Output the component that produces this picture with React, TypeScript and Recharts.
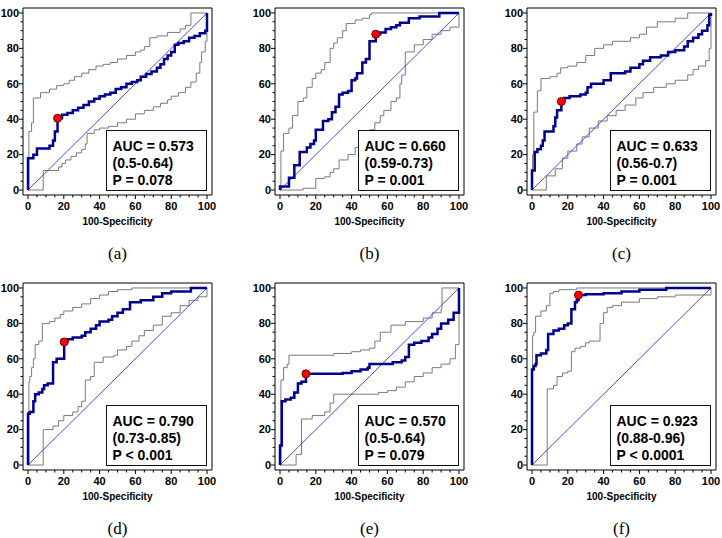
import React from 'react';
import { LineChart, Line, XAxis, YAxis, ReferenceDot } from 'recharts';

// ROC curves (stepAfter: each point = x where the curve jumps to y)
const rocA = [[0,0],[0,18],[3,20],[5,23.5],[12,25],[14,28],[15,33],[16.5,40.5],[19,42.5],[22,43.5],[25,45],[28,46.5],[31,48],[34,50],[37,51.5],[40,53],[43,54],[46,55],[49,57],[52,58],[55,60],[58,61],[61,62],[63,64],[66,65.5],[69,67],[72,69],[74,71],[76,74],[78,76],[80,78],[82,82],[84,83],[87,84],[90,86],[93,87],[96,88.5],[99,90],[100,91],[100,100]];
const upA = [[0,0],[0.5,33],[2,38],[3,52],[7,55],[12,57],[16,59],[20,60],[23,62],[26,64],[30,66],[34,68],[38,70],[42,71],[46,72],[50,74],[55,76],[60,78],[63,79],[65,81],[68,86],[72,87],[78,89],[85,91],[88,93],[91,100],[100,100]];
const loA = [[0,0],[8.5,11],[17,13],[19,15],[21,17],[24,19],[27,21],[30,23],[32,26],[33,32],[37,34],[40,35],[45,36],[50,38],[55,40],[60,43],[65,45],[70,47],[74,49],[78,51],[80,53],[84,55],[88,58],[91,61],[94,66],[96,72],[97,78],[99,84],[100,88],[100,100]];

const rocB = [[0,0],[0,2],[5,7],[8,14],[11,21.5],[15,24],[17,26],[19,28],[20,34],[24,39],[27,40],[29,44],[31,47],[33,54],[35,55],[38,56],[40,62],[42,63],[43,66],[46,72],[48,74],[50,84],[53.5,88],[56,89],[59,91],[62,92],[65,93],[67,94.5],[72,97],[78,98],[89,100],[100,100]];
const upB = [[0,0],[0.5,22],[2,32],[5,35],[7,42],[10,50],[13,52],[15,58],[18,63],[20,66],[23,68],[25,72],[28,80],[30,83],[32,86],[35,90],[37,94],[42,96],[46,97],[50,99],[51,100],[100,100]];
const loB = [[0,0],[13,1],[20,6.5],[25,7.5],[28,10],[30,12],[33,17],[38,20],[42,24],[45,30],[50,34],[53,38],[56,42],[58,45],[62,50],[65,52],[67,60],[68,65],[70,78],[75,82],[80,85],[85,88],[90,90],[95,92],[100,96],[100,100]];

const rocC = [[0,0],[0,11],[1.5,21.5],[3,23],[5,25],[6,28],[7,33],[12,36],[13,41],[14,45],[16.4,50],[18,52],[21,53],[27,54],[30,55],[31,58],[33,60],[40,62],[44,66],[52,67],[55,69],[60,71],[62,73],[66,75],[72,76],[76,78],[80,79],[85,81],[87,84],[90,86],[93,88],[95,90],[98,93],[99,99],[100,100]];
const upC = [[0,0],[0.3,20],[1,44],[3,56],[5,63],[10,64],[14,66],[16,69],[20,70],[25,72],[30,76],[35,80],[40,82],[45,84],[55,86],[60,88],[64,92],[70,95],[80,97],[87,100],[100,100]];
const loC = [[0,0],[8,8],[13,12],[17,18],[20,22],[25,26],[28,30],[32,35],[37,39],[42,42],[47,45],[52,48],[58,52],[62,55],[68,58],[75,60],[80,62],[87,65],[90,68],[93,70],[97,73],[99,80],[100,85],[100,100]];

const rocD = [[0,0],[0,29],[1,30],[3,36],[4,40],[6,41],[8,43],[9,45],[11,46],[14,58],[16,60],[20.2,69.5],[22,71],[25,72],[30,73],[32,75],[35,77],[38,79],[40,81],[45,82],[47,84],[50,86],[53,88],[57,92],[63,93],[70,95],[75,97],[80,98],[91,100],[100,100]];
const upD = [[0,0],[0.5,47],[1,50],[2,55],[3,60],[4,68],[6,70],[8,80],[12,81],[15,83],[18,85],[20,87],[25,89],[30,91],[35,94],[40,96],[45,98],[50,99],[58,100],[100,100]];
const loD = [[0,0],[8.5,20],[14,22],[17,25],[20,28],[25,30],[28,33],[30,36],[32,48],[35,50],[37,58],[42,61],[48,62],[50,65],[55,67],[58,70],[62,73],[65,76],[70,79],[75,84],[80,86],[85,90],[90,93],[95,95],[100,98],[100,100]];

const rocE = [[0,0],[0,11],[1,36],[3,37],[6,38],[8,41],[10,46],[12,47],[14.5,51.5],[35,52],[40,53],[45,54],[49,55],[50,57],[58,57],[63,58],[68,59],[70,61],[72,68],[75,69],[79,70],[83,72],[85,74],[88,77],[90,80],[94,82],[97,86],[100,87],[100,100]];
const upE = [[0,0],[0.5,48],[2,55],[4,57],[5,62],[30,63],[40,64],[45,65],[50,66],[53,70],[56,75],[62,79],[70,81],[80,83],[85,86],[90,88],[90.5,100],[100,100]];
const loE = [[0,0],[9,6],[12,26],[18,28],[25,30],[28,35],[30,40],[55,41],[60,42],[65,44],[70,47],[75,50],[80,52],[85,55],[90,57],[95,60],[98,68],[100,70],[100,100]];

const rocF = [[0,0],[0,54],[1,56],[2,57],[2.5,62],[5,63],[8,65],[9,74],[12,76],[15,77],[18,79],[20,80],[22,88],[24,92],[25,93],[26,96],[30,96.5],[40,97],[50,98],[60,99],[75,100],[100,100]];
const upF = [[0,0],[0.3,73],[1,75],[2,84],[5,87],[8,90],[10,97],[12,98],[15,99],[25,100],[100,100]];
const loF = [[0,0],[8.5,43],[12,45],[14,50],[17,52],[20,53],[22,64],[24,66],[27,67],[30,69],[32,70],[36,70],[38,80],[40,86],[42,89],[45,90],[50,92],[60,94],[70,95],[80,96],[100,97],[100,100]];

const chance = [[0,0],[100,100]];
const cutoffs = [[16.5,40.5],[53.5,88],[16.4,50],[20.2,69.5],[14.5,51.5],[26,96]];
const aucLabels = ['AUC = 0.573','AUC = 0.660','AUC = 0.633','AUC = 0.790','AUC = 0.570','AUC = 0.923'];
const ciLabels = ['(0.5-0.64)','(0.59-0.73)','(0.56-0.7)','(0.73-0.85)','(0.5-0.64)','(0.88-0.96)'];
const pLabels = ['P = 0.078','P = 0.001','P = 0.001','P < 0.001','P = 0.079','P < 0.0001'];
const letters = ['(a)','(b)','(c)','(d)','(e)','(f)'];
const ticks = [0,5,10,15,20,25,30,35,40,45,50,55,60,65,70,75,80,85,90,95,100];

const rocs = [rocA, rocB, rocC, rocD, rocE, rocF];
const uppers = [upA, upB, upC, upD, upE, upF];
const lowers = [loA, loB, loC, loD, loE, loF];

const pts = (arr: number[][]) => arr.map(([x, y]) => ({ x, y }));
const DOMAIN: [number, number] = [-2.8, 102.8];
const FONT = "'Liberation Sans', Arial, sans-serif";

const XTick = (props: any) => {
  const { x, y, payload } = props;
  const major = payload.value % 20 === 0;
  return (
    <g>
      <line x1={x} x2={x} y1={y} y2={y + (major ? 4 : 2.5)} stroke="#000" strokeWidth={1} />
      {major && (
        <text x={x} y={y + 15} textAnchor="middle" fontFamily={FONT} fontWeight="bold" fontSize={11} fill="#000">
          {payload.value}
        </text>
      )}
    </g>
  );
};

const YTick = (props: any) => {
  const { x, y, payload } = props;
  const major = payload.value % 20 === 0;
  return (
    <g>
      <line x1={x} x2={x - (major ? 4 : 2.5)} y1={y} y2={y} stroke="#000" strokeWidth={1} />
      {major && (
        <text x={x - 4} y={y} dy="0.35em" textAnchor="end" fontFamily={FONT} fontWeight="bold" fontSize={11} fill="#000">
          {payload.value}
        </text>
      )}
    </g>
  );
};

const RocPanel = ({ i, left, top }: { i: number; left: number; top: number }) => (
  <div style={{ position: 'absolute', left, top, width: 240, height: 275 }}>
    <LineChart width={240} height={215} margin={{ top: 7, right: 27, bottom: 19, left: 22 }}>
      <XAxis dataKey="x" type="number" domain={DOMAIN} ticks={ticks} interval={0} height={1}
        tick={<XTick />} tickLine={false} tickSize={0} tickMargin={0} axisLine={{ stroke: '#000' }} />
      <YAxis type="number" domain={DOMAIN} ticks={ticks} interval={0} width={1}
        tick={<YTick />} tickLine={false} tickSize={0} tickMargin={0} axisLine={{ stroke: '#000' }} />
      <XAxis xAxisId="top" orientation="top" type="number" domain={DOMAIN} height={1} tick={false} tickLine={false} axisLine={{ stroke: '#000' }} />
      <YAxis yAxisId="right" orientation="right" type="number" domain={DOMAIN} width={1} tick={false} tickLine={false} axisLine={{ stroke: '#000' }} />
      <Line data={pts(lowers[i])} dataKey="y" type="stepAfter" stroke="#7a7a7a" strokeWidth={1} dot={false} activeDot={false} isAnimationActive={false} />
      <Line data={pts(uppers[i])} dataKey="y" type="stepAfter" stroke="#7a7a7a" strokeWidth={1} dot={false} activeDot={false} isAnimationActive={false} />
      <Line data={pts(chance)} dataKey="y" type="linear" stroke="#4a4aff" strokeWidth={1} dot={false} activeDot={false} isAnimationActive={false} />
      <Line data={pts(rocs[i])} dataKey="y" type="stepAfter" stroke="#00008f" strokeWidth={2.5} dot={false} activeDot={false} isAnimationActive={false} />
      <ReferenceDot x={cutoffs[i][0]} y={cutoffs[i][1]} r={4} fill="#ff0000" stroke="#700000" strokeWidth={1} />
    </LineChart>
    <div style={{
      position: 'absolute', left: 106, top: 130, width: 101, height: 61, boxSizing: 'border-box',
      border: '1.5px solid #111', background: '#fff', padding: '7px 0 0 5.5px',
      fontFamily: FONT, fontWeight: 'bold', fontSize: 14, lineHeight: '17px', color: '#000', whiteSpace: 'nowrap',
    }}>
      <div>{aucLabels[i]}</div>
      <div>{ciLabels[i]}</div>
      <div>{pLabels[i]}</div>
    </div>
    <div style={{
      position: 'absolute', left: 28, top: 216, width: 179, textAlign: 'center',
      fontFamily: FONT, fontWeight: 'bold', fontSize: 10, lineHeight: '12px', color: '#000',
    }}>100-Specificity</div>
    <div style={{
      position: 'absolute', left: 28, top: 244, width: 179, textAlign: 'center',
      fontFamily: "'Liberation Serif', 'Times New Roman', serif", fontSize: 17, lineHeight: '20px', color: '#000',
    }}>{letters[i]}</div>
  </div>
);

export default function App() {
  return (
    <div style={{ position: 'absolute', left: 0, top: 0, width: 722, height: 538, background: '#fff', overflow: 'hidden' }}>
      {[0, 1, 2, 3, 4, 5].map((i) => (
        <RocPanel key={i} i={i} left={(i % 3) * 252} top={Math.floor(i / 3) * 275} />
      ))}
    </div>
  );
}
